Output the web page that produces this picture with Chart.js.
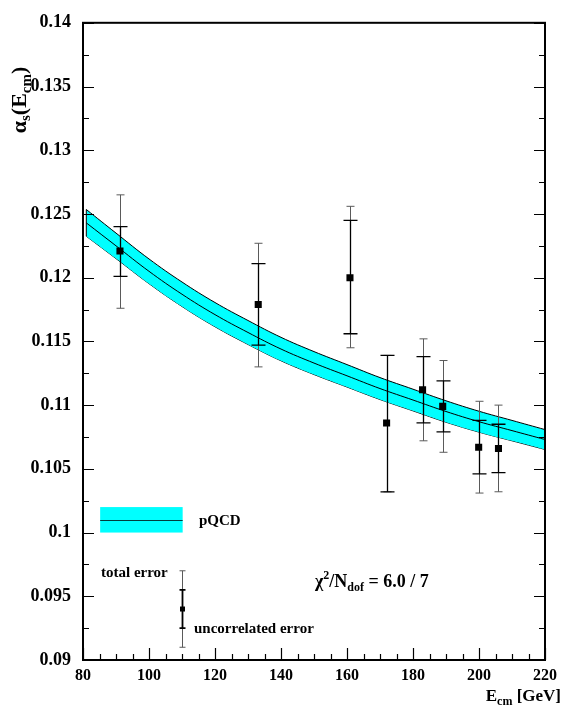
<!DOCTYPE html>
<html>
<head>
<meta charset="utf-8">
<script src="https://cdn.jsdelivr.net/npm/chart.js@4/dist/chart.umd.min.js"></script>
<style>
  body { margin: 0; background: #fff; }
</style>
</head>
<body>
<canvas id="c" width="563" height="708"></canvas>
<script>
// measurements
var energy = [91.2, 133.1, 160.9, 172.0, 182.9, 189.0, 199.9, 205.9];
var alphas = [0.1221, 0.1179, 0.1200, 0.1086, 0.1112, 0.1099, 0.1067, 0.1066];
var totHi  = [0.1265, 0.1227, 0.1256, 0.1139, 0.1152, 0.1135, 0.1103, 0.1100];
var totLo  = [0.1176, 0.1130, 0.1145, 0.1032, 0.1072, 0.1063, 0.1031, 0.1032];
var uncHi  = [0.1240, 0.1211, 0.1245, 0.1139, 0.1138, 0.1119, 0.1088, 0.1085];
var uncLo  = [0.1201, 0.1147, 0.1156, 0.1032, 0.1086, 0.1079, 0.1046, 0.1047];

// pQCD band
var bandE   = [81, 90, 100, 110, 120, 130, 140, 150, 160, 170, 180, 190, 200, 210, 220];
var bandMid = [0.1243, 0.1225, 0.1205, 0.1187, 0.1171, 0.1157, 0.1144, 0.1133, 0.1123, 0.1113, 0.1104, 0.1095, 0.1087, 0.1080, 0.1073];
var bandHi  = [0.12535, 0.1235, 0.12147, 0.11966, 0.11805, 0.11664, 0.11532, 0.1142, 0.11318, 0.11216, 0.11125, 0.11034, 0.10952, 0.1088, 0.10808];
var bandLo  = [0.12325, 0.1215, 0.11953, 0.11774, 0.11615, 0.11476, 0.11348, 0.1124, 0.11142, 0.11044, 0.10955, 0.10866, 0.10788, 0.1072, 0.10652];

// legend error bar example
var legE = 110, legA = 0.0940, legTotHi = 0.0970, legTotLo = 0.0910, legUncHi = 0.0955, legUncLo = 0.0925;

var SERIF = "'Liberation Serif', 'DejaVu Serif', serif";

function xy(xs, ys) {
  var out = [];
  for (var i = 0; i < xs.length; i++) out.push({x: xs[i], y: ys[i]});
  return out;
}

// draws a list of text runs [text, size, dy] left to right
function runs(ctx, x, y, parts, align) {
  var w = 0, i;
  for (i = 0; i < parts.length; i++) {
    ctx.font = 'bold ' + parts[i][1] + 'px ' + SERIF;
    w += ctx.measureText(parts[i][0]).width;
  }
  if (align === 'right') x -= w;
  if (align === 'center') x -= w / 2;
  ctx.textBaseline = 'alphabetic';
  ctx.textAlign = 'left';
  for (i = 0; i < parts.length; i++) {
    ctx.font = 'bold ' + parts[i][1] + 'px ' + SERIF;
    ctx.fillText(parts[i][0], x, y + parts[i][2]);
    x += ctx.measureText(parts[i][0]).width;
  }
}

function errBar(ctx, px, yTH, yTL, yUH, yUL, capT, capU, lw) {
  ctx.lineWidth = 1;
  ctx.strokeStyle = '#5a5a5a';
  ctx.beginPath();
  ctx.moveTo(px, yTH); ctx.lineTo(px, yTL);
  ctx.moveTo(px - capT, yTH); ctx.lineTo(px + capT, yTH);
  ctx.moveTo(px - capT, yTL); ctx.lineTo(px + capT, yTL);
  ctx.stroke();
  ctx.lineWidth = lw;
  ctx.strokeStyle = '#000';
  ctx.beginPath();
  ctx.moveTo(px, yUH); ctx.lineTo(px, yUL);
  ctx.moveTo(px - capU, yUH); ctx.lineTo(px + capU, yUH);
  ctx.moveTo(px - capU, yUL); ctx.lineTo(px + capU, yUL);
  ctx.stroke();
}

var extras = {
  id: 'extras',
  afterDatasetDraw: function (chart, args) {
    if (args.index !== 1) return;
    var ctx = chart.ctx, xs = chart.scales.x, ys = chart.scales.y;
    ctx.save();
    // band ends
    ctx.strokeStyle = '#000'; ctx.lineWidth = 1;
    ctx.beginPath();
    var e0 = xs.getPixelForValue(bandE[0]), e1 = xs.getPixelForValue(bandE[bandE.length - 1]);
    ctx.moveTo(e0, ys.getPixelForValue(bandHi[0])); ctx.lineTo(e0, ys.getPixelForValue(bandLo[0]));
    ctx.moveTo(e1, ys.getPixelForValue(bandHi[bandHi.length - 1])); ctx.lineTo(e1, ys.getPixelForValue(bandLo[bandLo.length - 1]));
    ctx.stroke();
    for (var i = 0; i < energy.length; i++) {
      errBar(ctx, Math.round(xs.getPixelForValue(energy[i])) + 0.5,
        ys.getPixelForValue(totHi[i]), ys.getPixelForValue(totLo[i]),
        ys.getPixelForValue(uncHi[i]), ys.getPixelForValue(uncLo[i]), 4, 7, 1.3);
    }
    ctx.restore();
  },
  afterDraw: function (chart) {
    var ctx = chart.ctx, xs = chart.scales.x, ys = chart.scales.y, a = chart.chartArea;
    ctx.save();
    // frame
    ctx.strokeStyle = '#000';
    ctx.lineWidth = 2;
    ctx.strokeRect(a.left, a.top, a.right - a.left, a.bottom - a.top);
    ctx.lineWidth = 1.2;
    ctx.beginPath();
    var v, p, len;
    for (v = 80; v <= 220; v += 5) {
      p = Math.round(xs.getPixelForValue(v)) + 0.5;
      len = (v % 20 === 0) ? 12 : 6;
      ctx.moveTo(p, a.bottom); ctx.lineTo(p, a.bottom - len);
    }
    for (var k = 0; k <= 20; k++) {
      v = 0.09 + k * 0.0025;
      p = Math.round(ys.getPixelForValue(v)) + 0.5;
      len = (k % 2 === 0) ? 11 : 6;
      ctx.moveTo(a.left, p); ctx.lineTo(a.left + len, p);
      ctx.moveTo(a.right, p); ctx.lineTo(a.right - len, p);
    }
    ctx.stroke();

    // legend: band swatch
    var lx0 = xs.getPixelForValue(85.2), lx1 = xs.getPixelForValue(110.2);
    var ly0 = ys.getPixelForValue(0.1020), ly1 = ys.getPixelForValue(0.1000);
    ctx.fillStyle = '#00ffff';
    ctx.fillRect(lx0, ly0, lx1 - lx0, ly1 - ly0);
    ctx.strokeStyle = '#003c3c'; ctx.lineWidth = 1;
    ctx.beginPath();
    var lym = Math.round((ly0 + ly1) / 2) + 0.5;
    ctx.moveTo(lx0, lym); ctx.lineTo(lx1, lym);
    ctx.stroke();

    // legend: error bar
    var ex = Math.round(xs.getPixelForValue(legE)) + 0.5;
    errBar(ctx, ex, ys.getPixelForValue(legTotHi), ys.getPixelForValue(legTotLo),
      ys.getPixelForValue(legUncHi), ys.getPixelForValue(legUncLo), 3, 3, 1.8);
    ctx.fillStyle = '#000';
    var ey = ys.getPixelForValue(legA);
    ctx.fillRect(ex - 2.5, ey - 2.5, 5, 5);

    ctx.fillStyle = '#000';
    runs(ctx, 199, 525, [['pQCD', 15, 0]]);
    runs(ctx, 101, 577, [['total error', 15, 0]]);
    runs(ctx, 194, 633, [['uncorrelated error', 15, 0]]);
    runs(ctx, 315, 587, [['\u03c7', 18, 0], ['2', 12, -8], ['/N', 18, 0], ['dof', 12, 4], [' = 6.0 / 7', 18, 0]]);

    // x title
    runs(ctx, 561, 701, [['E', 17, 0], ['cm', 12, 4], [' [GeV]', 17, 0]], 'right');

    // y title
    ctx.translate(26, 100);
    ctx.rotate(-Math.PI / 2);
    runs(ctx, 0, 0, [['\u03b1', 22, 0], ['s', 15, 4], ['(E', 22, 0], ['cm', 15, 5], [')', 22, 0]], 'center');
    ctx.restore();
  }
};

new Chart(document.getElementById('c'), {
  data: {
    datasets: [
      {
        type: 'scatter',
        data: xy(energy, alphas),
        pointStyle: 'rect',
        pointRadius: 5,
        pointBackgroundColor: '#000',
        pointBorderColor: '#000',
        pointBorderWidth: 0
      },
      {
        type: 'line',
        data: xy(bandE, bandMid),
        borderColor: '#000',
        borderWidth: 1,
        pointRadius: 0,
        fill: false,
        tension: 0.4
      },
      {
        type: 'line',
        data: xy(bandE, bandHi),
        borderColor: '#000',
        borderWidth: 1,
        pointRadius: 0,
        backgroundColor: '#00ffff',
        fill: '+1',
        tension: 0.4
      },
      {
        type: 'line',
        data: xy(bandE, bandLo),
        borderColor: '#000',
        borderWidth: 1,
        pointRadius: 0,
        fill: false,
        tension: 0.4
      }
    ]
  },
  options: {
    responsive: false,
    animation: false,
    devicePixelRatio: 1,
    layout: { padding: { top: 19, right: 16, left: 0, bottom: 0 } },
    plugins: { legend: { display: false }, tooltip: { enabled: false } },
    scales: {
      x: {
        type: 'linear', min: 80, max: 220,
        grid: { display: false, drawTicks: false },
        border: { display: false },
        ticks: { stepSize: 20, padding: 6, color: '#000', font: { family: SERIF, weight: 'bold', size: 16 } },
        afterFit: function (s) { s.height = 48; }
      },
      y: {
        type: 'linear', min: 0.09, max: 0.14,
        grid: { display: false, drawTicks: false },
        border: { display: false },
        ticks: {
          stepSize: 0.005, padding: 12, color: '#000',
          font: { family: SERIF, weight: 'bold', size: 18 },
          callback: function (v) { return String(+v.toFixed(3)); }
        },
        afterFit: function (s) { s.width = 83; }
      }
    }
  },
  plugins: [extras]
});
</script>
</body>
</html>
